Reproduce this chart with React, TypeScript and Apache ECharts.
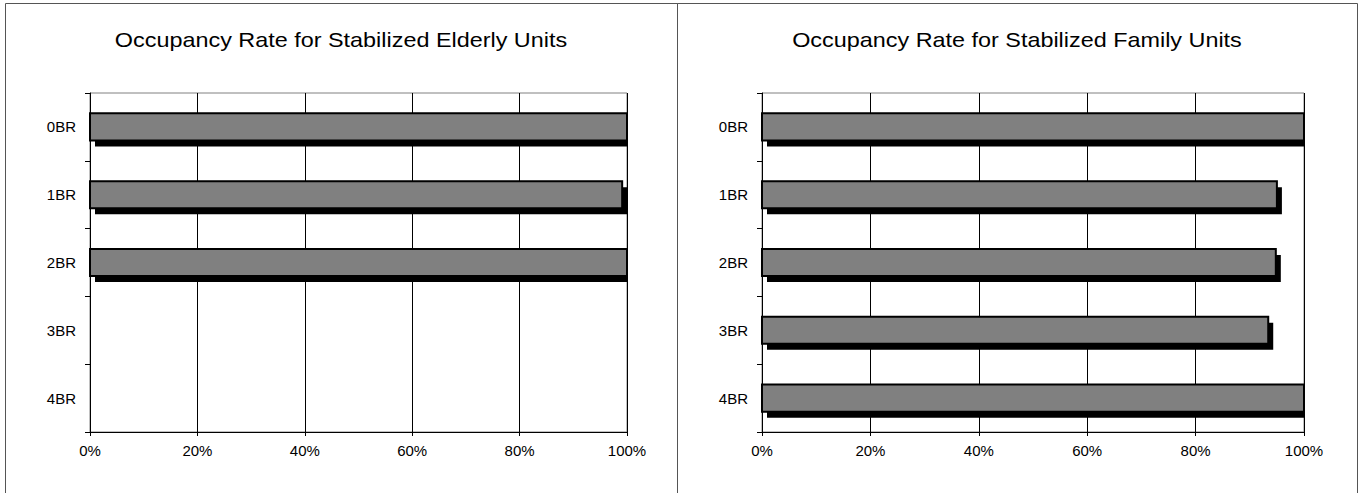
import React, { useEffect, useRef } from "react";
import * as echarts from "echarts";

const categories = ["0BR", "1BR", "2BR", "3BR", "4BR"];
const elderlyValues: (number | null)[] = [100, 99.1, 100, null, null];
const familyValues: (number | null)[] = [100, 95.0, 94.8, 93.4, 100];
const titles = [
  "Occupancy Rate for Stabilized Elderly Units",
  "Occupancy Rate for Stabilized Family Units",
];
const xTicks = { min: 0, max: 100, interval: 20 };

const FONT = "Liberation Sans, Arial, sans-serif";

function toData(vals: (number | null)[]) {
  const out: number[][] = [];
  vals.forEach((v, i) => {
    if (v !== null) out.push([v, i]);
  });
  return out;
}

function renderBar(params: any, api: any) {
  const v = api.value(0);
  const idx = api.value(1);
  const start = api.coord([0, idx]);
  const end = api.coord([v, idx]);
  const band = api.size([0, 1])[1];
  const h = band * 0.4;
  const cs = params.coordSys;
  const xmax = cs.x + cs.width + 1;
  const sx = start[0] + 5;
  const sEnd = Math.min(end[0] + 5, xmax);
  return {
    type: "group",
    children: [
      {
        type: "rect",
        shape: { x: sx, y: start[1] - h / 2 + 6, width: sEnd - sx, height: h },
        style: { fill: "#000000" },
      },
      {
        type: "rect",
        shape: { x: start[0], y: start[1] - h / 2, width: end[0] - start[0], height: h },
        style: { fill: "#808080", stroke: "#000000", lineWidth: 2 },
      },
    ],
  };
}

export default function App() {
  const ref = useRef<HTMLDivElement>(null);
  useEffect(() => {
    if (!ref.current) return;
    const chart = echarts.init(ref.current, undefined, { renderer: "svg" });
    const grids = [
      { left: 90, top: 93, width: 537, height: 339 },
      { left: 762, top: 93, width: 542, height: 339 },
    ];
    const xAxes = grids.map((_, i) => ({
      type: "value",
      gridIndex: i,
      min: xTicks.min,
      max: xTicks.max,
      interval: xTicks.interval,
      axisLine: { show: true, lineStyle: { color: "#000", width: 1 } },
      axisTick: { show: true, length: 4, lineStyle: { color: "#000" } },
      axisLabel: {
        formatter: "{value}%",
        color: "#000",
        fontSize: 15,
        fontFamily: FONT,
        margin: 11,
      },
      splitLine: { show: true, lineStyle: { color: "#000", width: 1 } },
    }));
    const yAxes = grids.map((_, i) => ({
      type: "category",
      gridIndex: i,
      data: categories,
      inverse: true,
      axisLine: { show: true, lineStyle: { color: "#000", width: 1 } },
      axisTick: { show: true, length: 5, lineStyle: { color: "#000" } },
      axisLabel: { color: "#000", fontSize: 15, fontFamily: FONT, margin: 14 },
      splitLine: { show: false },
    }));
    const titleCenters = [341, 1017];
    chart.setOption({
      animation: false,
      backgroundColor: "#fff",
      grid: grids.map((g) => ({ ...g, show: true, borderColor: "#808080", borderWidth: 1, backgroundColor: "transparent" })),
      xAxis: xAxes,
      yAxis: yAxes,
      series: [
        {
          type: "custom",
          xAxisIndex: 0,
          yAxisIndex: 0,
          renderItem: renderBar,
          encode: { x: 0, y: 1 },
          data: toData(elderlyValues),
          z: 5,
        },
        {
          type: "custom",
          xAxisIndex: 1,
          yAxisIndex: 1,
          renderItem: renderBar,
          encode: { x: 0, y: 1 },
          data: toData(familyValues),
          z: 5,
        },
      ],
      graphic: [
        {
          type: "rect",
          shape: { x: 5.5, y: 3.5, width: 672, height: 500 },
          style: { fill: "none", stroke: "#555", lineWidth: 1 },
          silent: true,
        },
        {
          type: "rect",
          shape: { x: 677.5, y: 3.5, width: 680, height: 500 },
          style: { fill: "none", stroke: "#555", lineWidth: 1 },
          silent: true,
        },
        ...titles.map((t, i) => ({
          type: "text",
          x: titleCenters[i],
          y: 40,
          scaleX: 1.17,
          silent: true,
          style: {
            text: t,
            textAlign: "center",
            textVerticalAlign: "middle",
            fontSize: 20,
            fontFamily: FONT,
            fill: "#000",
          },
        })),
      ],
    });
    return () => chart.dispose();
  }, []);
  return (
    <div
      ref={ref}
      style={{ position: "absolute", left: 0, top: 0, width: 1359, height: 493 }}
    />
  );
}
